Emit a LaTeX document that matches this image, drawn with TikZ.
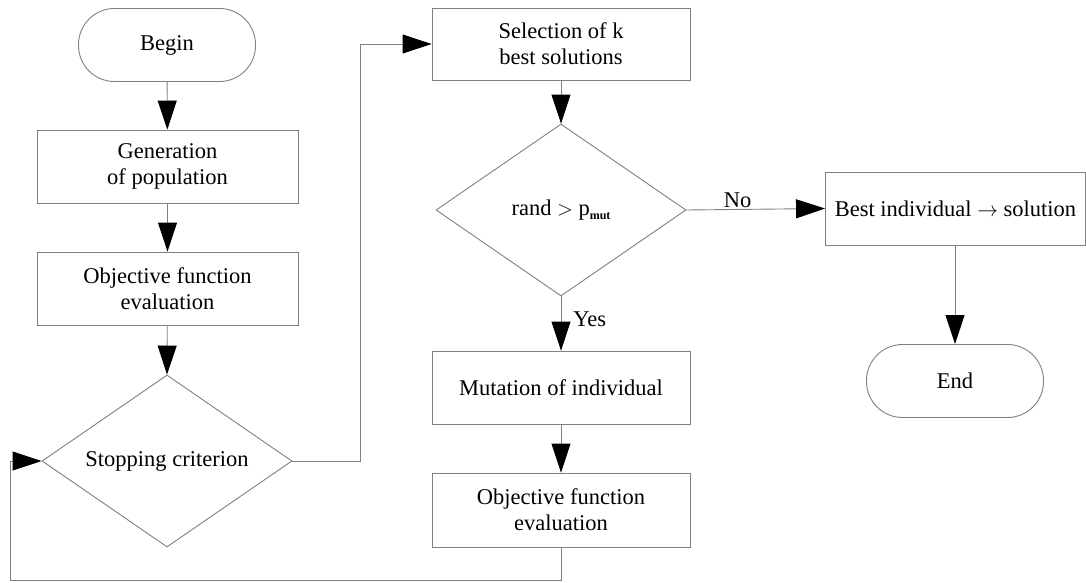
\documentclass[tikz,border=0pt]{standalone}
\usepackage{fontspec}
\setmainfont{Liberation Serif}
\usetikzlibrary{arrows.meta,shapes.geometric}
\begin{document}
\begin{tikzpicture}[x=1pt,y=-1pt,
  every node/.style={font=\fontsize{22.5}{26}\selectfont, align=center, text=black},
  box/.style={draw=gray, line width=0.9pt, minimum width=261pt, minimum height=73pt, inner sep=0pt},
  term/.style={draw=gray, line width=0.9pt, rounded corners=36pt, minimum width=177pt, minimum height=73pt, inner sep=0pt},
  dec/.style={draw=gray, line width=0.9pt, diamond, aspect=1.45, minimum width=250pt, minimum height=172pt, inner sep=0pt},
  conn/.style={draw=gray, line width=0.9pt, -{Triangle[length=29pt,width=19pt,fill=black,color=black]}},
  lbl/.style={font=\fontsize{22.5}{26}\selectfont}
]
\useasboundingbox (0,0) rectangle (1086,582);
\node[term] (begin) at (167,45) {Begin};
\node[box] (gen) at (167.5,166.5) {Generation\\of population};
\node[box] (obj) at (167.5,288.5) {Objective function\\evaluation};
\node[dec] (stop) at (167,461) {Stopping criterion};
\node[box, minimum width=258pt, minimum height=72pt] (sel) at (561,44) {Selection of k\\best solutions};
\node[dec] (rand) at (561,210) {rand $>$ p\raisebox{-0.35ex}{\fontsize{12}{12}\selectfont\bfseries mut}};
\node[box, minimum width=258pt] (mut) at (561,387.5) {Mutation of individual};
\node[box, minimum width=258pt, minimum height=74pt] (obj2) at (561,510) {Objective function\\evaluation};
\node[box, minimum width=260pt] (best) at (955.5,208.5) {Best individual $\rightarrow$ solution};
\node[term] (end) at (955,381) {End};

\coordinate (c1) at (360,461);
\coordinate (c2) at (360,44);
\coordinate (c3) at (561,580);
\coordinate (c4) at (10,580);
\coordinate (c5) at (10,461);

\draw[conn] (begin) -- (gen);
\draw[conn] (gen) -- (obj);
\draw[conn] (obj) -- (stop.north);
\draw[conn] (stop.east) -- (c1) -- (c2) -- (sel.west);
\draw[conn] (sel) -- (rand.north);
\draw[conn] (rand.east) -- node[lbl, above, pos=0.37, inner sep=1pt] {No} (best.west);
\draw[conn] (rand.south) -- node[lbl, right, pos=0.42, inner sep=12pt] {Yes} (mut.north);
\draw[conn] (mut) -- (obj2);
\draw[conn] (obj2.south) -- (c3) -- (c4) -- (c5) -- (stop.west);
\draw[conn] (best.south -| end.north) -- (end.north);
\end{tikzpicture}
\end{document}
